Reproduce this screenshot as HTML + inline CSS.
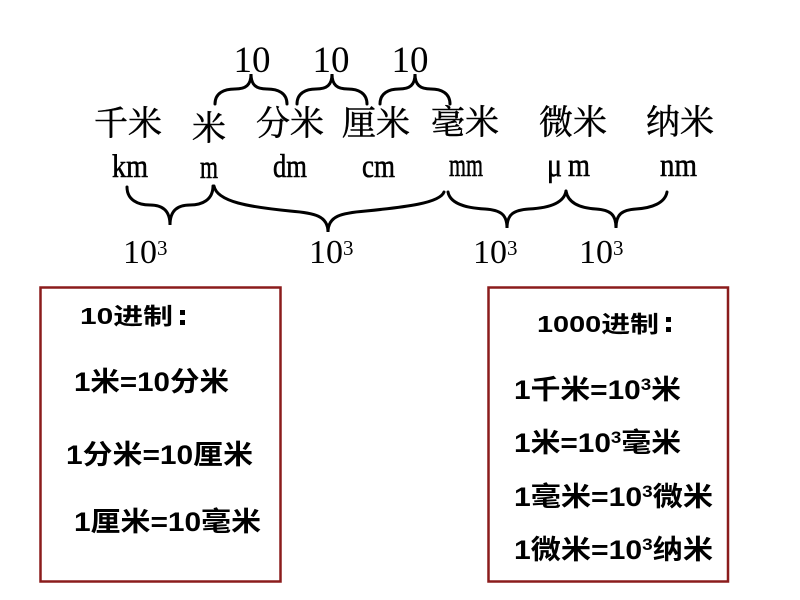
<!DOCTYPE html>
<html>
<head>
<meta charset="utf-8">
<style>
html,body{margin:0;padding:0;background:#fff;}
svg{display:block;}
.cn{font-family:"Noto Serif CJK SC","Liberation Serif",serif;font-size:34px;fill:#000;stroke:#000;stroke-width:0.5px;}
.en{font-family:"Liberation Serif",serif;font-size:33px;fill:#000;stroke:#000;stroke-width:0.6px;}
.num{font-family:"Liberation Serif",serif;fill:#000;}
.b{font-family:"Liberation Sans","Noto Sans CJK SC",sans-serif;font-weight:bold;fill:#000;}
</style>
</head>
<body>
<svg width="800" height="600" viewBox="0 0 800 600" xmlns="http://www.w3.org/2000/svg">
<rect width="800" height="600" fill="#fff"/>

<!-- top labels 10 -->
<text class="num" x="252" y="72" font-size="37" text-anchor="middle">10</text>
<text class="num" x="331" y="72" font-size="37" text-anchor="middle">10</text>
<text class="num" x="410" y="72" font-size="37" text-anchor="middle">10</text>

<!-- top braces -->
<g fill="none" stroke="#000" stroke-width="3" stroke-linecap="round">
<path d="M215,104 C215,93 224,89 235,89 C246,89 251,85 251,74 C251,85 256,89 267,89 C278,89 287,93 287,104"/>
<path d="M297,104 C297,93 306,89 316,89 C327,89 332,85 332,74 C332,85 337,89 348,89 C358,89 367,93 367,104"/>
<path d="M380,104 C380,93 389,89 399,89 C410,89 415,85 415,74 C415,85 420,89 431,89 C441,89 450,93 450,104"/>
</g>

<!-- Chinese unit names -->
<text class="cn" x="94" y="135">千米</text>
<text class="cn" x="192" y="140">米</text>
<text class="cn" x="256" y="135">分米</text>
<text class="cn" x="342" y="135">厘米</text>
<text class="cn" x="431" y="134">毫米</text>
<text class="cn" x="539" y="134">微米</text>
<text class="cn" x="646" y="134">纳米</text>

<!-- Latin unit symbols -->
<text class="en" x="112" y="177" textLength="36" lengthAdjust="spacingAndGlyphs">km</text>
<text class="en" x="200" y="178" textLength="18" lengthAdjust="spacingAndGlyphs">m</text>
<text class="en" x="273" y="177" textLength="34" lengthAdjust="spacingAndGlyphs">dm</text>
<text class="en" x="362" y="177" textLength="33" lengthAdjust="spacingAndGlyphs">cm</text>
<text class="en" x="449" y="176" textLength="34" lengthAdjust="spacingAndGlyphs">mm</text>
<text class="en" x="547" y="176" font-size="28" textLength="15" lengthAdjust="spacingAndGlyphs">μ</text>
<text class="en" x="568" y="176" textLength="22" lengthAdjust="spacingAndGlyphs">m</text>
<text class="en" x="660" y="176" textLength="37" lengthAdjust="spacingAndGlyphs">nm</text>

<!-- bottom braces -->
<g fill="none" stroke="#000" stroke-width="3" stroke-linecap="round">
<path d="M127,187 C127,200 138,205 150,205 C162,205 170,210 170,225 C170,210 178,205 190,205 C202,205 213,200 213,186"/>
<path d="M214,186 C217,202 250,207 290,211 C315,213 328,216 328,232 C328,216 341,213 366,211 C406,207 440,203 444,192"/>
<path d="M448,192 C450,203 465,208 485,209 C500,210 507,214 507,228 C507,214 514,210 529,209 C549,208 564,203 566,191"/>
<path d="M566,191 C568,203 580,208 596,209 C610,210 616,214 616,228 C616,214 622,210 636,209 C652,208 665,203 667,192"/>
</g>

<!-- 10^3 labels -->
<text class="num" x="123" y="263" font-size="34">10<tspan font-size="21" dy="-8">3</tspan></text>
<text class="num" x="309" y="263" font-size="34">10<tspan font-size="21" dy="-8">3</tspan></text>
<text class="num" x="473" y="263" font-size="34">10<tspan font-size="21" dy="-8">3</tspan></text>
<text class="num" x="579" y="263" font-size="34">10<tspan font-size="21" dy="-8">3</tspan></text>

<!-- boxes -->
<rect x="40.5" y="287.5" width="240" height="294" fill="none" stroke="#8b1c1c" stroke-width="2.5"/>
<rect x="488.5" y="287.5" width="239.5" height="294" fill="none" stroke="#8b1c1c" stroke-width="2.5"/>

<!-- left box text -->
<text class="b" x="80" y="324" font-size="23" textLength="93" lengthAdjust="spacingAndGlyphs">10进制</text>
<rect x="180" y="310" width="5" height="5" fill="#000"/>
<rect x="180" y="320" width="5" height="5" fill="#000"/>
<text class="b" x="74" y="391" font-size="27" textLength="155" lengthAdjust="spacingAndGlyphs">1米=10分米</text>
<text class="b" x="66" y="464" font-size="27" textLength="187" lengthAdjust="spacingAndGlyphs">1分米=10厘米</text>
<text class="b" x="74" y="531" font-size="27" textLength="187" lengthAdjust="spacingAndGlyphs">1厘米=10毫米</text>

<!-- right box text -->
<text class="b" x="537" y="332" font-size="23" textLength="122" lengthAdjust="spacingAndGlyphs">1000进制</text>
<rect x="666" y="317" width="5" height="5" fill="#000"/>
<rect x="666" y="327" width="5" height="5" fill="#000"/>
<text class="b" x="514" y="399" font-size="27" textLength="167" lengthAdjust="spacingAndGlyphs">1千米=10<tspan font-size="17" dy="-9">3</tspan><tspan dy="9">米</tspan></text>
<text class="b" x="514" y="452" font-size="27" textLength="167" lengthAdjust="spacingAndGlyphs">1米=10<tspan font-size="17" dy="-9">3</tspan><tspan dy="9">毫米</tspan></text>
<text class="b" x="514" y="506" font-size="27" textLength="199" lengthAdjust="spacingAndGlyphs">1毫米=10<tspan font-size="17" dy="-9">3</tspan><tspan dy="9">微米</tspan></text>
<text class="b" x="514" y="559" font-size="27" textLength="199" lengthAdjust="spacingAndGlyphs">1微米=10<tspan font-size="17" dy="-9">3</tspan><tspan dy="9">纳米</tspan></text>
</svg>
</body>
</html>
